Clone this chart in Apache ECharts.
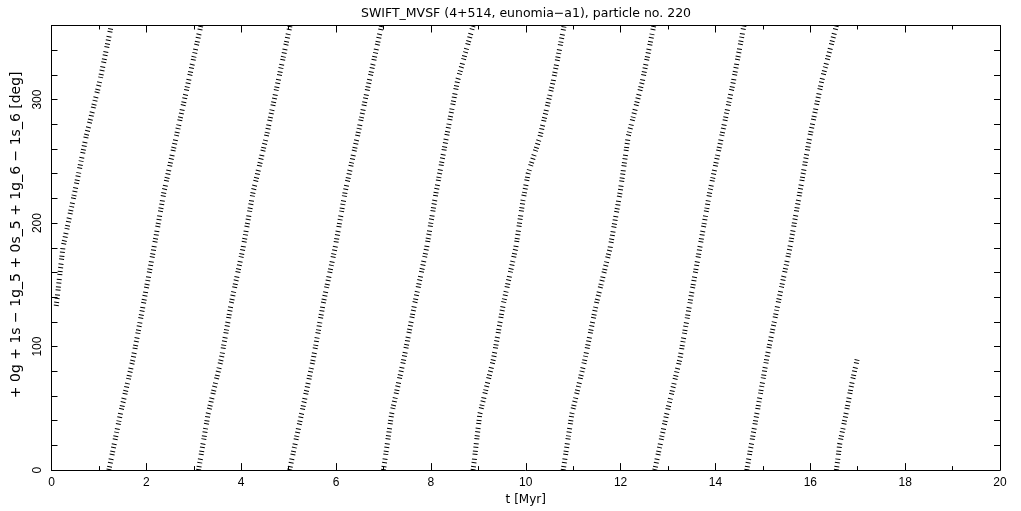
<!DOCTYPE html>
<html><head><meta charset="utf-8">
<script src="https://cdn.jsdelivr.net/npm/echarts@6/dist/echarts.min.js"></script>
<style>html,body{margin:0;padding:0;background:#fff}#c{width:1021px;height:511px}</style>
</head><body><div id="c"></div>
<script>
const titleText = 'SWIFT_MVSF (4+514, eunomia\u2212a1), particle no. 220';
const xName = 't [Myr]';
const yName = '+ 0g + 1s \u2212 1g_5 + 0s_5 + 1g_6 \u2212 1s_6 [deg]';
const yLabelValues = [0, 100, 200, 300];

// each band: [t (Myr), angle (deg)]
const band0 = [[0.10,133],[0.24,180],[0.49,225],[0.73,270],[1.02,315],[1.26,360]];
const band1 = [[1.21,0],[1.45,45],[1.72,90],[1.94,135],[2.16,180],[2.37,225],[2.63,270],[2.89,315],[3.15,360]];
const band2 = [[3.10,0],[3.30,45],[3.58,90],[3.79,135],[4.04,180],[4.25,225],[4.53,270],[4.78,315],[5.03,360]];
const band3 = [[5.02,0],[5.27,45],[5.52,90],[5.73,135],[5.98,180],[6.19,225],[6.45,270],[6.70,315],[6.96,360]];
const band4 = [[7.00,0],[7.17,45],[7.43,90],[7.66,135],[7.91,180],[8.11,225],[8.33,270],[8.56,315],[8.89,360]];
const band5 = [[8.89,0],[9.03,45],[9.32,90],[9.53,135],[9.79,180],[9.94,218],[10.05,240],[10.30,270],[10.58,315],[10.81,360]];
const band6 = [[10.79,0],[10.97,45],[11.25,90],[11.49,135],[11.78,180],[11.99,225],[12.16,270],[12.46,315],[12.70,360]];
const band7 = [[12.72,0],[12.97,45],[13.25,90],[13.46,135],[13.67,180],[13.88,225],[14.13,270],[14.38,315],[14.60,360]];
const band8 = [[14.66,0],[14.87,45],[15.08,90],[15.32,135],[15.57,180],[15.78,225],[15.99,270],[16.24,315],[16.55,360]];
const band9 = [[16.55,0],[16.62,21],[16.75,45],[16.87,69],[16.99,90]];
const bands = [band0,band1,band2,band3,band4,band5,band6,band7,band8,band9];

const FONT = 'DejaVu Sans';
const chart = echarts.init(document.getElementById('c'), null, {renderer:'canvas'});
const tickStyle = {color:'#000', width:1};
const xBase = {
  type:'value', min:0, max:20, interval:2,
  axisLine:{show:true, onZero:false, lineStyle:{color:'#000', width:1}},
  axisTick:{show:true, inside:true, length:7, lineStyle:tickStyle},
  minorTick:{show:true, splitNumber:2, length:4, lineStyle:tickStyle},
  splitLine:{show:false}, minorSplitLine:{show:false}
};
const yBase = {
  type:'value', min:0, max:360, interval:20,
  axisLine:{show:true, onZero:false, lineStyle:{color:'#000', width:1}},
  axisTick:{show:true, inside:true, length:6, lineStyle:tickStyle},
  splitLine:{show:false}
};
chart.setOption({
  animation:false,
  backgroundColor:'#fff',
  title:{text:titleText, left:356, top:2, textStyle:{fontFamily:FONT, fontSize:12.5, fontWeight:'normal', color:'#000'}},
  grid:{left:51.5, right:21, top:25.5, bottom:36.5},
  xAxis:[
    Object.assign({}, xBase, {position:'bottom', name:xName, nameLocation:'middle', nameGap:20,
      nameTextStyle:{fontFamily:FONT, fontSize:12, color:'#000'},
      axisLabel:{show:true, margin:7, fontFamily:'Liberation Sans', fontSize:12, color:'#000'}}),
    Object.assign({}, xBase, {position:'top', axisLabel:{show:false}})
  ],
  yAxis:[
    Object.assign({}, yBase, {position:'left', name:yName, nameLocation:'middle', nameGap:27, nameRotate:90,
      nameTextStyle:{fontFamily:FONT, fontSize:14, color:'#000', padding:[0,0,0,26]},
      axisLabel:{show:true, rotate:90, margin:8, fontFamily:'Liberation Sans', fontSize:12, color:'#000',
        formatter:function(v){ return yLabelValues.indexOf(v) >= 0 ? String(v) : ''; }}}),
    Object.assign({}, yBase, {position:'right', axisLabel:{show:false}})
  ],
  series: bands.map(function(b){
    return {type:'line', data:b, symbol:'none', showSymbol:false, silent:true, clip:true,
      lineStyle:{color:'#000', width:5, type:[1,2,1,3,1,2.5,1,4], opacity:1}};
  })
});
</script></body></html>
